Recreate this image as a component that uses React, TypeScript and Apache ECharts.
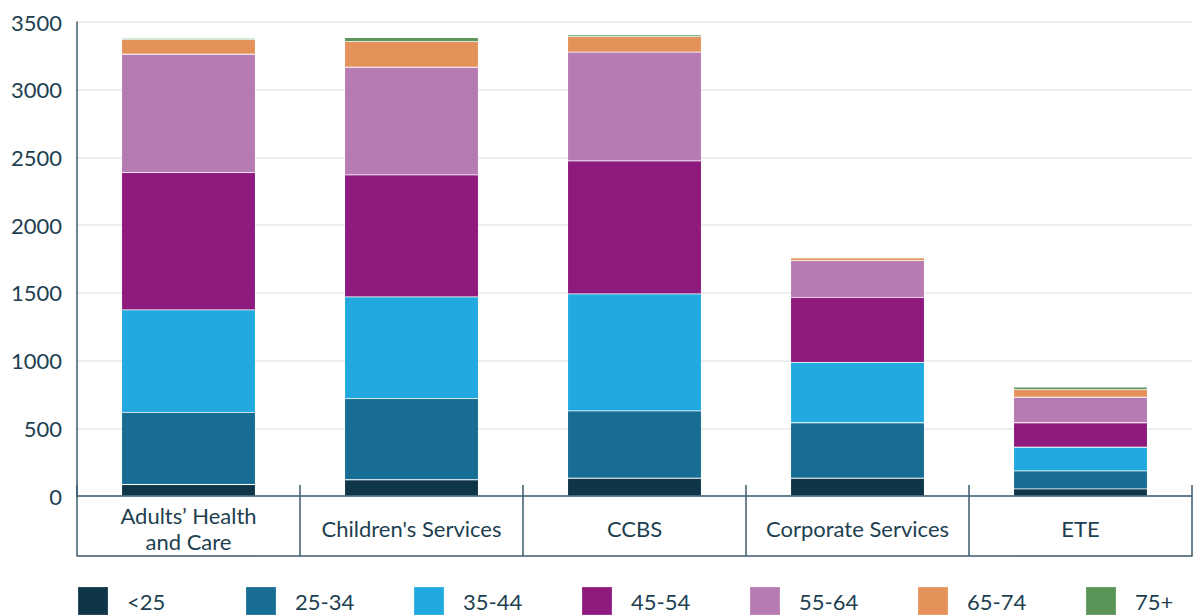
import React, { useEffect, useRef } from "react";
import * as echarts from "echarts";

const categories = ["Adults\u2019 Health\nand Care", "Children's Services", "CCBS", "Corporate Services", "ETE"];
const ageGroups = ["<25", "25-34", "35-44", "45-54", "55-64", "65-74", "75+"];
const under25 = [85, 120, 131, 131, 52];
const age25to34 = [533, 599, 497, 410, 133];
const age35to44 = [756, 751, 864, 446, 175];
const age45to54 = [1014, 901, 982, 480, 181];
const age55to64 = [874, 795, 803, 271, 188];
const age65to74 = [108, 189, 115, 20, 56];
const age75plus = [10, 30, 13, 5, 20];
const seriesValues = [under25, age25to34, age35to44, age45to54, age55to64, age65to74, age75plus];
const colors = ["#0f3549", "#176d93", "#21a9e0", "#8e1a7e", "#b77bb3", "#e5925a", "#5a9457"];
const yTicks = { min: 0, max: 3500, interval: 500 };

const FONT = "Lato, 'Open Sans', sans-serif";
const AXIS = "#3d5a6c";
const TEXT = "#1e3f50";
const LEGEND_LEFT = 77;
const LEGEND_STEP = 168;
const FS = 22;

export default function App() {
  const ref = useRef<HTMLDivElement>(null);
  useEffect(() => {
    if (!ref.current) return;
    const chart = echarts.init(ref.current, undefined, { renderer: "svg" });
    chart.setOption({
      animation: false,
      textStyle: { fontFamily: FONT },
      grid: { left: 77, right: 8, top: 22, bottom: 119 },
      legend: ageGroups.map((name, i) => ({
        left: LEGEND_LEFT + i * LEGEND_STEP,
        top: 586,
        padding: 0,
        itemWidth: 30,
        itemHeight: 28,
        itemGap: 0,
        icon: "rect",
        data: [name],
        textStyle: { fontSize: FS, color: TEXT, fontFamily: FONT, lineHeight: 24, padding: [0, 0, 0, 14] },
      })),
      xAxis: [
        {
          type: "category",
          data: categories,
          position: "bottom",
          axisLine: { show: true, lineStyle: { color: AXIS, width: 1.5 } },
          axisTick: { show: false },
          axisLabel: {
            fontSize: FS,
            color: TEXT,
            fontFamily: FONT,
            lineHeight: 26,
            verticalAlign: "middle",
            margin: 32,
            interval: 0,
          },
        },
        {
          type: "category",
          data: categories,
          position: "bottom",
          offset: 60,
          axisLine: { show: true, lineStyle: { color: AXIS, width: 1.5 } },
          axisTick: { show: true, inside: true, length: 71, interval: 0, lineStyle: { color: AXIS, width: 1.5 } },
          axisLabel: { show: false },
        },
      ],
      yAxis: {
        type: "value",
        min: yTicks.min,
        max: yTicks.max,
        interval: yTicks.interval,
        axisLine: { show: true, lineStyle: { color: AXIS, width: 1.5 } },
        axisTick: { show: false },
        axisLabel: {
          fontSize: FS,
          color: TEXT,
          fontFamily: FONT,
          margin: 15,
          formatter: (v: number) => String(v),
        },
        splitLine: { lineStyle: { color: "#e8e8ee", width: 1.5 } },
      },
      series: ageGroups.map((name, i) => ({
        name,
        type: "bar",
        stack: "total",
        xAxisIndex: 0,
        barWidth: "60%",
        data: seriesValues[i],
        itemStyle: { color: colors[i], borderColor: "rgba(255,255,255,0.12)", borderWidth: 0.8 },
      })),
    });
    return () => chart.dispose();
  }, []);
  return (
    <div
      ref={ref}
      style={{ position: "absolute", left: 0, top: 0, width: 1200, height: 615, background: "#fff" }}
    />
  );
}
